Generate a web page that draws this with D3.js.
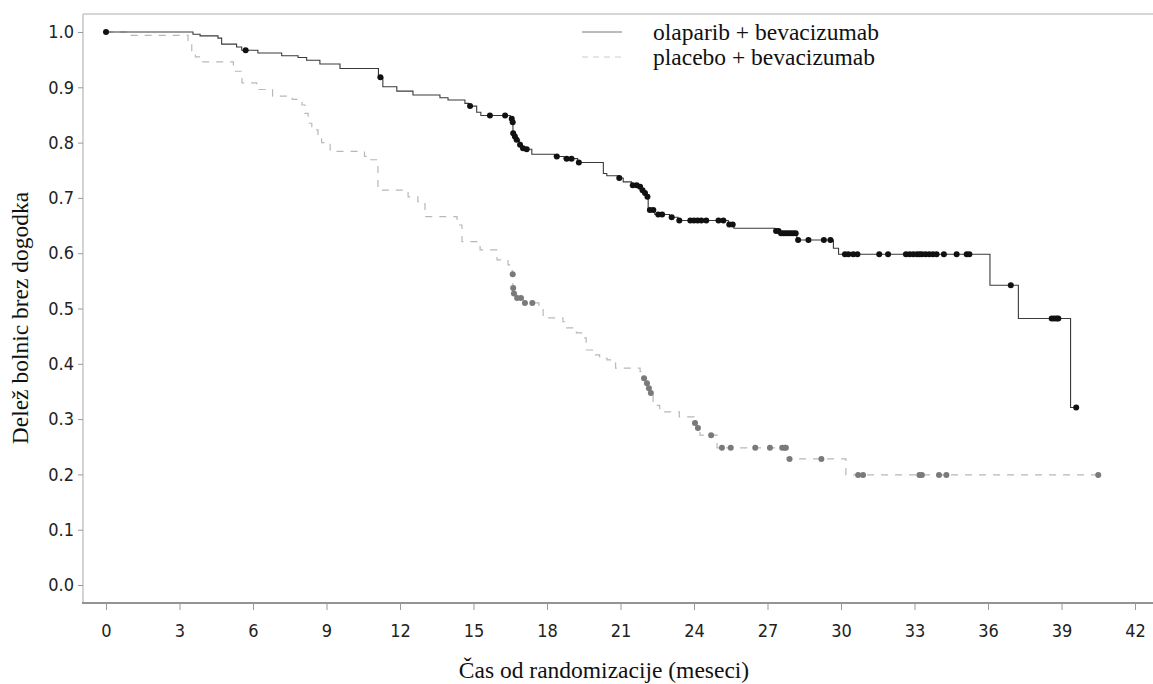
<!DOCTYPE html>
<html>
<head>
<meta charset="utf-8">
<script src="https://cdnjs.cloudflare.com/ajax/libs/d3/7.8.5/d3.min.js"></script>
<style>
  body { margin: 0; background: #fff; }
  .tick-label { font-family: 'DejaVu Sans Condensed', 'DejaVu Sans', sans-serif; font-stretch: condensed; font-size: 18px; fill: #222; }
  .serif { font-family: 'Liberation Serif', 'Times New Roman', serif; fill: #111; }
</style>
</head>
<body>
<svg id="chart"></svg>
<script>
// step times (months) and survival after each step
const olaparibTimes = [0, 3.55, 3.84, 4.57, 4.72, 5.33, 5.54, 6.2, 7.17, 7.84, 8.19, 8.73, 9.55, 11.12, 11.3, 11.87,
  12.53, 13.63, 13.96, 14.65, 14.8, 15.13, 15.3, 16.5, 16.58, 16.61, 16.66, 16.74, 16.88, 17.0, 17.12, 17.38,
  18.3, 18.7, 19.25, 20.3, 20.44, 20.9, 21.11, 21.45, 21.75, 21.88, 21.98, 22.06, 22.13, 22.4, 23.0, 23.35,
  25.4, 25.63, 27.3, 27.5, 28.2, 29.69, 29.9, 36.08, 37.24, 39.37];
const olaparibSurv = [1.0, 0.996, 0.993, 0.989, 0.978, 0.973, 0.967, 0.962, 0.957, 0.954, 0.949, 0.942, 0.934, 0.918, 0.901, 0.893,
  0.886, 0.881, 0.877, 0.871, 0.866, 0.855, 0.849, 0.843, 0.837, 0.817, 0.811, 0.805, 0.796, 0.790, 0.788, 0.779,
  0.775, 0.771, 0.764, 0.744, 0.740, 0.736, 0.729, 0.723, 0.720, 0.714, 0.709, 0.702, 0.678, 0.670, 0.665, 0.659,
  0.652, 0.645, 0.640, 0.636, 0.624, 0.609, 0.598, 0.542, 0.482, 0.321];
const olaparibCensored = [0, 5.7, 11.2, 14.86, 15.67, 16.29, 16.56, 16.6, 16.62, 16.69, 16.76, 16.9, 17.02, 17.17,
  18.4, 18.8, 19.0, 19.3, 20.95, 21.5, 21.66, 21.8, 21.9, 22.0, 22.1, 22.2, 22.34, 22.54, 22.7, 23.09,
  23.4, 23.85, 24.0, 24.15, 24.3, 24.5, 25.0, 25.2, 25.44, 25.58, 27.35, 27.45, 27.55, 27.65, 27.75, 27.85,
  27.95, 28.05, 28.15, 28.25, 28.67, 29.3, 29.57, 30.16, 30.3, 30.5, 30.67, 31.56, 31.92, 32.65, 32.8, 32.95,
  33.1, 33.2, 33.3, 33.45, 33.6, 33.75, 33.9, 34.2, 34.72, 35.13, 35.24, 36.93, 38.6, 38.7, 38.8, 38.87, 39.6];

const placeboTimes = [0, 0.9, 3.35, 3.5, 3.65, 3.9, 5.2, 5.55, 6.15, 6.8, 7.6, 8.0, 8.12, 8.25, 8.4, 8.65, 8.8, 9.15,
  10.55, 10.8, 11.1, 12.33, 12.73, 13.02, 14.33, 14.53, 15.27, 15.96, 16.41, 16.58, 16.61, 16.63, 16.76, 17.05,
  17.67, 17.84, 17.95, 18.65, 18.8, 19.2, 19.45, 19.6, 19.85, 20.15, 20.45, 20.8, 21.8, 21.94, 22.06, 22.14,
  22.22, 22.33, 22.6, 23.4, 24.0, 24.12, 24.24, 24.94, 27.8, 30.2];
const placeboSurv = [1.0, 0.994, 0.982, 0.965, 0.955, 0.946, 0.929, 0.908, 0.896, 0.884, 0.878, 0.868, 0.853, 0.835, 0.823, 0.81, 0.80, 0.784,
  0.775, 0.769, 0.714, 0.702, 0.693, 0.666, 0.651, 0.621, 0.606, 0.588, 0.579, 0.562, 0.537, 0.527, 0.519, 0.510,
  0.503, 0.488, 0.483, 0.476, 0.465, 0.456, 0.447, 0.425, 0.416, 0.410, 0.407, 0.392, 0.386, 0.374, 0.365, 0.356,
  0.347, 0.325, 0.313, 0.304, 0.293, 0.284, 0.271, 0.248, 0.228, 0.199];
const placeboCensored = [16.6, 16.62, 16.65, 16.78, 16.94, 17.1, 17.4, 21.96, 22.08, 22.16, 22.24, 24.04, 24.16, 24.7,
  25.14, 25.5, 26.5, 27.1, 27.6, 27.7, 27.75, 27.9, 29.2, 30.7, 30.9, 33.2, 33.3, 34.0, 34.3, 40.5];

const xTicks = d3.range(0, 43, 3);
const yTicks = d3.range(0, 11).map(d => d / 10);
const legendLabels = ['olaparib + bevacizumab', 'placebo + bevacizumab'];
const xTitle = 'Čas od randomizacije (meseci)';
const yTitle = 'Delež bolnic brez dogodka';

class KaplanMeier {
  constructor(_config) {
    this.config = {
      parentElement: _config.parentElement,
      containerWidth: _config.containerWidth || 1153,
      containerHeight: _config.containerHeight || 684,
    }
    this.init();
  }

  init() {
    let vis = this;

    vis.svg = d3.select(vis.config.parentElement)
      .attr('width', vis.config.containerWidth)
      .attr('height', vis.config.containerHeight);

    vis.xScale = d3.scaleLinear().domain([0, 42]).range([106, 1135]);
    vis.yScale = d3.scaleLinear().domain([0, 1]).range([585, 32]);

    // frame: light left/top, darker bottom axis
    vis.svg.append('line').attr('x1', 83).attr('x2', 83).attr('y1', 14).attr('y2', 603)
      .style('stroke', '#c4c4c4').style('stroke-width', 1.5);
    vis.svg.append('line').attr('x1', 83).attr('x2', 1153).attr('y1', 14).attr('y2', 14)
      .style('stroke', '#c8c8c8').style('stroke-width', 1.5);
    vis.svg.append('line').attr('x1', 82).attr('x2', 1153).attr('y1', 603).attr('y2', 603)
      .style('stroke', '#707070').style('stroke-width', 1.3);

    vis.xAxisG = vis.svg.append('g').attr('transform', 'translate(0,603)')
      .call(d3.axisBottom(vis.xScale).tickValues(xTicks).tickSize(7).tickPadding(14));
    vis.yAxisG = vis.svg.append('g').attr('transform', 'translate(83,0)')
      .call(d3.axisLeft(vis.yScale).tickValues(yTicks).tickFormat(d3.format('.1f')).tickSize(5).tickPadding(4));

    [vis.xAxisG, vis.yAxisG].forEach(g => {
      g.select('.domain').remove();
      g.selectAll('.tick line').style('stroke', '#999');
      g.selectAll('.tick text').attr('class', 'tick-label').attr('font-family', null).attr('font-size', null);
    });

    vis.svg.append('text')
      .attr('class', 'serif')
      .attr('x', 604)
      .attr('y', 678)
      .attr('text-anchor', 'middle')
      .style('font-size', '23.5px')
      .text(xTitle);

    vis.svg.append('text')
      .attr('class', 'serif')
      .attr('transform', 'translate(28,318) rotate(-90)')
      .attr('text-anchor', 'middle')
      .style('font-size', '23.5px')
      .text(yTitle);

    vis.legend = vis.svg.append('g');
  }

  stepPoints(times, surv, endTime) {
    let pts = times.map((t, i) => [t, surv[i]]);
    pts.push([endTime, surv[surv.length - 1]]);
    return pts;
  }

  survAt(times, surv, t) {
    return surv[d3.bisectRight(times, t) - 1];
  }

  render() {
    let vis = this;

    const line = d3.line()
      .x(d => vis.xScale(d[0]))
      .y(d => vis.yScale(d[1]))
      .curve(d3.curveStepAfter);

    vis.svg.append('path')
      .datum(vis.stepPoints(placeboTimes, placeboSurv, 40.55))
      .attr('d', line)
      .style('fill', 'none')
      .style('stroke', '#b8b8b8')
      .style('stroke-width', 1.2)
      .style('stroke-dasharray', '7,7');

    vis.svg.append('path')
      .datum(vis.stepPoints(olaparibTimes, olaparibSurv, 39.6))
      .attr('d', line)
      .style('fill', 'none')
      .style('stroke', '#3a3a3a')
      .style('stroke-width', 1.1);

    vis.svg.append('g').selectAll('circle')
      .data(placeboCensored)
      .join('circle')
      .attr('cx', d => vis.xScale(d))
      .attr('cy', d => vis.yScale(vis.survAt(placeboTimes, placeboSurv, d)))
      .attr('r', 3)
      .style('fill', '#7a7a7a');

    vis.svg.append('g').selectAll('circle')
      .data(olaparibCensored)
      .join('circle')
      .attr('cx', d => vis.xScale(d))
      .attr('cy', d => vis.yScale(vis.survAt(olaparibTimes, olaparibSurv, d)))
      .attr('r', 3)
      .style('fill', '#111');

    // legend
    legendLabels.forEach((label, i) => {
      let y = 32 + i * 25;
      vis.legend.append('line')
        .attr('x1', 582).attr('x2', 622).attr('y1', y).attr('y2', y)
        .style('stroke', i == 0 ? '#777' : '#ccc')
        .style('stroke-width', 1)
        .style('stroke-dasharray', i == 0 ? null : '6,5');
      vis.legend.append('text')
        .attr('class', 'serif')
        .attr('x', 653)
        .attr('y', y + 8)
        .style('font-size', '23.5px')
        .text(label);
    });
  }
}

const chart = new KaplanMeier({ parentElement: '#chart' });
chart.render();
</script>
</body>
</html>
